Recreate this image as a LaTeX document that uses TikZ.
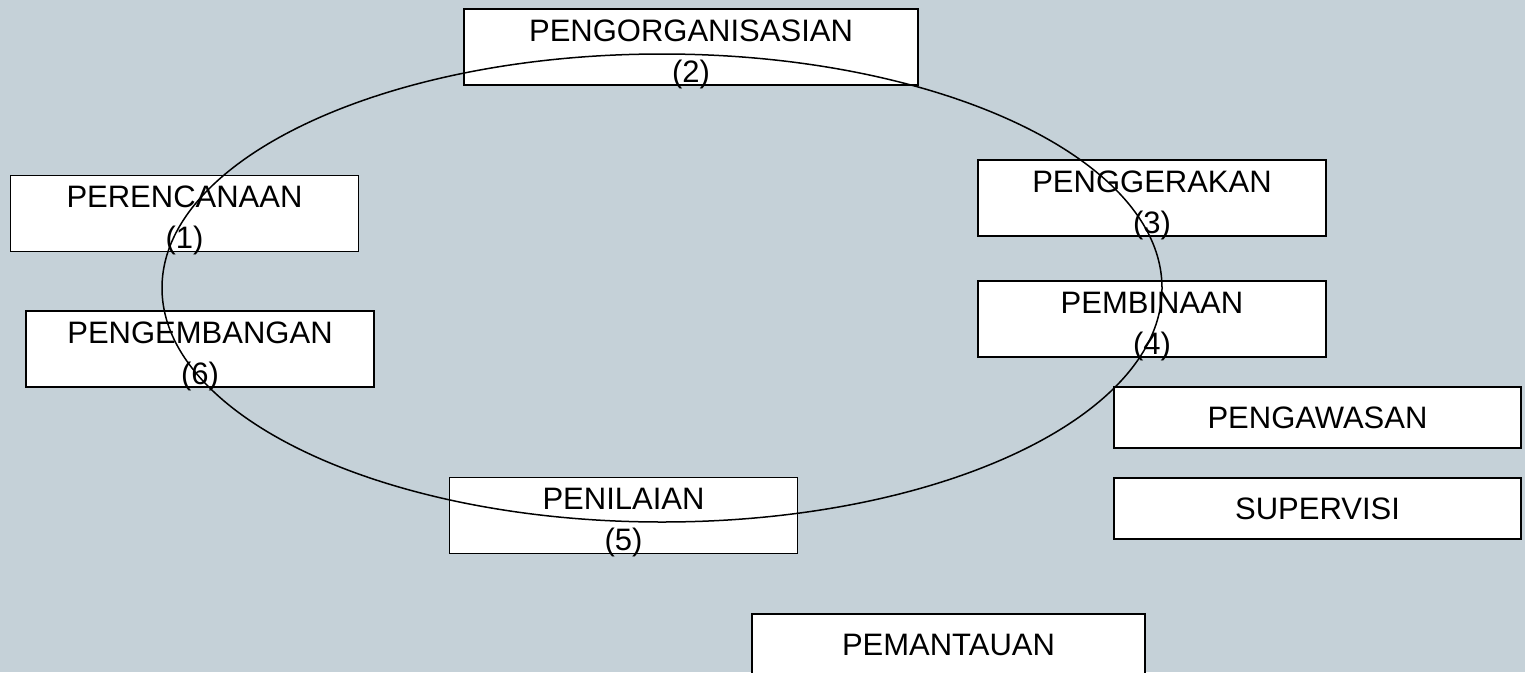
\documentclass[tikz,border=0pt]{standalone}
\usepackage{fontspec}
\setmainfont{Liberation Sans}
\usepackage{xcolor}
\usetikzlibrary{positioning}
\definecolor{slidebg}{RGB}{197, 209, 216}

\tikzset{
  stagebox/.style={draw, fill=white, line width=1.5pt, minimum width=348pt, minimum height=76pt,
    align=center, inner sep=0pt, text height=70pt, text depth=0pt, font=\fontsize{31}{41}\selectfont},
  sidebox/.style={stagebox, text height={}, text depth={}, minimum width=407pt, minimum height=61pt}
}

\begin{document}
\begin{tikzpicture}[x=1pt, y=-1pt]
        % Background
        \fill[slidebg] (0,0) rectangle (1525,672);
        \useasboundingbox (0,0) rectangle (1525,672);

        % Stages of the cycle
        \node[stagebox, minimum width=454pt] (org) at (691,47) {PENGORGANISASIAN\\(2)};
        \node[stagebox] (ren) at (184.5,213.5) {PERENCANAAN\\(1)};
        \node[stagebox] (ger) at (1152,198) {PENGGERAKAN\\(3)};
        \node[stagebox] (bin) at (1152,319) {PEMBINAAN\\(4)};
        \node[stagebox] (kem) at (200,349) {PENGEMBANGAN\\(6)};
        \node[stagebox] (nil) at (623.5,515.5) {PENILAIAN\\(5)};

        % Side boxes
        \node[sidebox] (awas) at (1317.5,417.5) {PENGAWASAN};
        \node[sidebox] (sup) at (1317.5,508.5) {SUPERVISI};
        \node[sidebox, minimum width=393pt] (pan) at (948.5,644.5) {PEMANTAUAN};

        % Cycle
        \draw[line width=1.5pt] (662,288) ellipse [x radius=500, y radius=234];
\end{tikzpicture}
\end{document}
